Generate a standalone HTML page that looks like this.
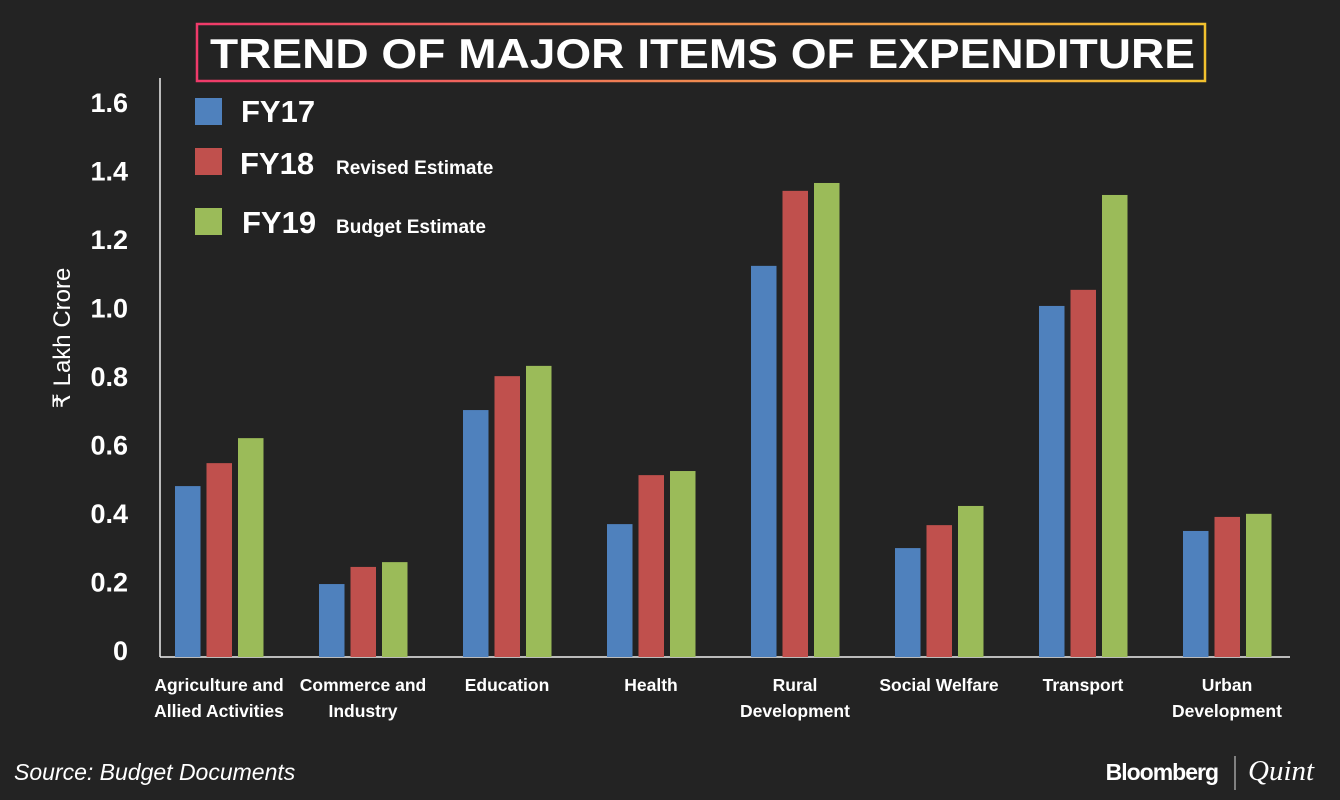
<!DOCTYPE html>
<html><head><meta charset="utf-8"><style>
body{margin:0;background:#232323;}
svg{display:block;font-family:"Liberation Sans",sans-serif;}
</style></head><body>
<svg id="chart" width="1340" height="800" viewBox="0 0 1340 800">
<defs><linearGradient id="bg" x1="0" x2="1"><stop offset="0" stop-color="#ef3a6a"/><stop offset="0.5" stop-color="#f08a50"/><stop offset="1" stop-color="#f2c12e"/></linearGradient></defs>
<rect width="1340" height="800" fill="#232323"/>
<rect x="197" y="24" width="1008" height="57" fill="none" stroke="url(#bg)" stroke-width="2.5"/>
<text x="210" y="68" textLength="985" lengthAdjust="spacingAndGlyphs" fill="#fff" font-size="42" font-weight="bold">TREND OF MAJOR ITEMS OF EXPENDITURE</text>
<g>
<rect x="195" y="98" width="27" height="27" fill="#4f81bd"/>
<text x="241" y="122" fill="#fff" font-size="31" font-weight="bold">FY17</text>
<rect x="195" y="148" width="27" height="27" fill="#c0504d"/>
<text x="240" y="174" fill="#fff" font-size="31" font-weight="bold">FY18</text>
<text x="336" y="174" fill="#fff" font-size="19" font-weight="bold">Revised Estimate</text>
<rect x="195" y="208" width="27" height="27" fill="#9bbb59"/>
<text x="242" y="233" fill="#fff" font-size="31" font-weight="bold">FY19</text>
<text x="336" y="233" fill="#fff" font-size="19" font-weight="bold">Budget Estimate</text>
</g>
<line x1="160" y1="78" x2="160" y2="657" stroke="#eee" stroke-width="1.5"/>
<line x1="160" y1="657" x2="1290" y2="657" stroke="#eee" stroke-width="1.5"/>
<text transform="translate(70,338) rotate(-90)" text-anchor="middle" fill="#fff" font-size="24">₹ Lakh Crore</text>
<g id="bars"></g><g id="ticks"></g><g id="cats"></g>
<text x="14" y="780" fill="#fff" font-size="23" font-style="italic">Source: Budget Documents</text>
<text x="1218" y="780" text-anchor="end" fill="#fff" font-size="23" font-weight="bold" letter-spacing="-1">Bloomberg</text>
<line x1="1235" y1="756" x2="1235" y2="790" stroke="#ddd" stroke-width="1"/>
<text x="1248" y="780" fill="#fff" font-size="29" font-style="italic" font-family="Liberation Serif, serif">Quint</text>
</svg>
<script>
const categories=[["Agriculture and","Allied Activities"],["Commerce and","Industry"],["Education"],["Health"],["Rural","Development"],["Social Welfare"],["Transport"],["Urban","Development"]];
const fy17=[0.499,0.213,0.721,0.388,1.142,0.318,1.025,0.368];
const fy18=[0.566,0.263,0.82,0.531,1.361,0.385,1.072,0.409];
const fy19=[0.639,0.277,0.85,0.543,1.384,0.441,1.349,0.418];
const tickValues=[0,0.2,0.4,0.6,0.8,1.0,1.2,1.4,1.6];
const tickLabels=["0","0.2","0.4","0.6","0.8","1.0","1.2","1.4","1.6"];
const NS="http://www.w3.org/2000/svg";
const y=v=>657-v*342.5;
const xc=i=>219+i*144;
const series=[[fy17,"#4f81bd","fy17"],[fy18,"#c0504d","fy18"],[fy19,"#9bbb59","fy19"]];
const bars=document.getElementById("bars");
series.forEach(([vals,col,nm],s)=>{vals.forEach((v,i)=>{
const r=document.createElementNS(NS,"rect");
r.setAttribute("x",xc(i)-44+s*31.5);r.setAttribute("width",25.5);
r.setAttribute("y",y(v));r.setAttribute("height",657-y(v));r.setAttribute("fill",col);


bars.appendChild(r);});});
const ticks=document.getElementById("ticks");
tickValues.forEach((v,i)=>{
const t=document.createElementNS(NS,"text");
t.setAttribute("x",128);t.setAttribute("y",y(v)+3);t.setAttribute("text-anchor","end");
t.setAttribute("fill","#fff");t.setAttribute("font-size","27");t.setAttribute("font-weight","bold");
t.textContent=tickLabels[i];


ticks.appendChild(t);});
const cats=document.getElementById("cats");
categories.forEach((lines,i)=>{lines.forEach((l,j)=>{
const t=document.createElementNS(NS,"text");
t.setAttribute("x",xc(i));t.setAttribute("y",691+j*26);t.setAttribute("text-anchor","middle");
t.setAttribute("fill","#fff");t.setAttribute("font-size","17.5");t.setAttribute("font-weight","bold");
t.textContent=l;


cats.appendChild(t);});});
</script>
</body></html>
